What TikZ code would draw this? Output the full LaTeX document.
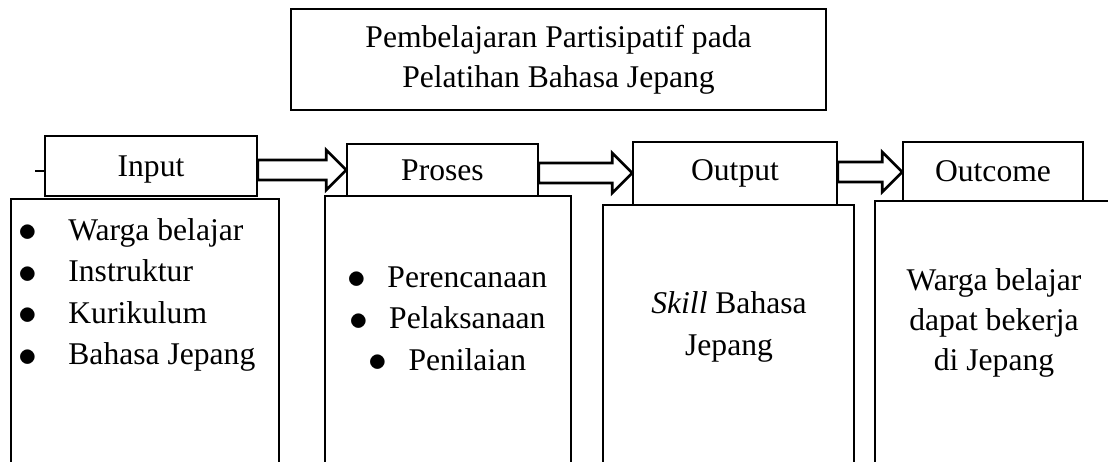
\documentclass[tikz,border=0pt]{standalone}
\usepackage{fontspec}
\setmainfont{Liberation Serif}
\usetikzlibrary{calc}
\tikzstyle{box}=[draw, line width=0.75pt, inner sep=0pt]
\tikzstyle{item}=[inner sep=0pt, anchor=base west]
\tikzstyle{citem}=[inner sep=0pt, anchor=base]
\tikzstyle{fat}=[draw, line width=1.4pt, line join=miter,
    to path={let \p1=(\tikztostart), \p2=(\tikztotarget) in
      (\x1,\y1+5pt) -- (\x2-10pt,\y1+5pt) -- (\x2-10pt,\y1+10pt) -- (\x2,\y1)
      -- (\x2-10pt,\y1-10pt) -- (\x2-10pt,\y1-5pt) -- (\x1,\y1-5pt) -- cycle}]
\newcommand{\blt}{\makebox[6pt]{\raisebox{-0.05em}{\scalebox{1.3}{$\bullet$}}}}

\begin{document}
\begin{tikzpicture}[x=0.5pt, y=-0.5pt
    ,every node/.style={font=\fontsize{15.8pt}{20pt}\selectfont}
]
\useasboundingbox (0,0) rectangle (1108,461);
\clip (0,0) rectangle (1108,461);

% judul
\node[box, align=center, minimum width=267.5pt, minimum height=50.5pt]
    (judul) at (558.5,59.5) {Pembelajaran Partisipatif pada\\Pelatihan Bahasa Jepang};

% kotak isi (terbuka ke bawah)
\node[box, minimum width=134pt,   minimum height=135.5pt] (inb) at (145,334.5) {};
\node[box, minimum width=123pt,   minimum height=137pt]   (prb) at (448,333)   {};
\node[box, minimum width=125.5pt, minimum height=132.5pt] (oub) at (728.5,337.5) {};
\node[box, minimum width=119pt,   minimum height=134.5pt] (ocb) at (994,335.5) {};

% kepala
\node[box, minimum width=106pt,  minimum height=30pt, text depth=0pt] (inh) at (151,166) {Input};
\node[box, minimum width=95.5pt, minimum height=26pt]   (prh) at (442.5,170) {Proses};
\node[box, minimum width=102pt,  minimum height=31.5pt] (ouh) at (735,173.5) {Output};
\node[box, minimum width=90pt,   minimum height=29.5pt] (och) at (993,171.5) {Outcome};

\coordinate (stub) at (35,171);
\draw[line width=0.75pt] (stub) -- (stub -| inh.west);

% panah
\draw[fat] ([yshift=-2pt]inh.east) to (prh.west);
\draw[fat] ([yshift=-1.5pt]prh.east) to (ouh.west);
\draw[fat] ([yshift=0.75pt]ouh.east) to (och.west);

% isi
\foreach \t [count=\i] in {Warga belajar, Instruktur, Kurikulum, Bahasa Jepang}
    \node[item] (in\i) at (21,198.5+41.5*\i) {\blt\hspace{17.5pt}\t};
\foreach \t [count=\i] in {Perencanaan, Pelaksanaan, Penilaian}
    \node[citem] (pr\i) at (449,245.5+41.5*\i) {\blt\hspace{12.3pt}\t};
\foreach \t [count=\i] in {\textit{Skill} Bahasa, Jepang}
    \node[citem] (ou\i) at (729,271+42*\i) {\t};
\foreach \t [count=\i] in {Warga belajar, dapat bekerja, di Jepang}
    \node[citem] (oc\i) at (994,250+40*\i) {\t};
\end{tikzpicture}
\end{document}
